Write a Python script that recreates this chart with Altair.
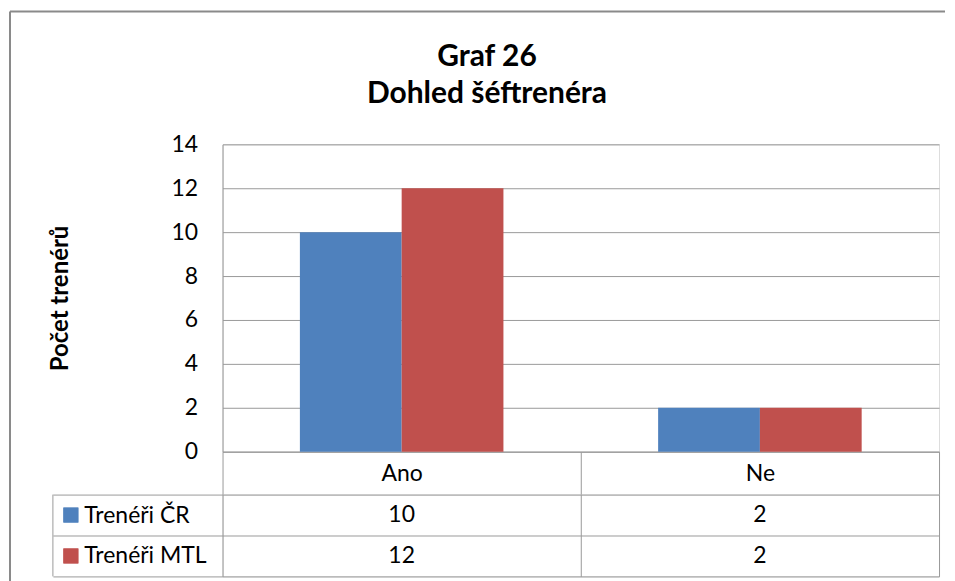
import altair as alt
import pandas as pd

categories = ["Ano", "Ne"]
series = ["Trenéři ČR", "Trenéři MTL"]
values_cr = [10, 2]
values_mtl = [12, 2]
colors = ["#4F81BD", "#C0504D"]
y_ticks = [0, 2, 4, 6, 8, 10, 12, 14]
title_lines = ["Graf 26", "Dohled šéftrenéra"]
y_title = "Počet trenérů"

rows = []
for s, vals in zip(series, [values_cr, values_mtl]):
    for c, v in zip(categories, vals):
        rows.append({"kategorie": c, "serie": s, "hodnota": v})
df = pd.DataFrame(rows)
one = pd.DataFrame({"k": [0]})

FONT = "Lato"
GRID = "#9a9a9a"
BORDER = "#8a8a8a"
W, H = 718, 308
TABLE_H = 82
TABLE_TOP = 494  # page y of table top
LBL = 23

x_scale = alt.Scale(domain=categories, paddingInner=0, paddingOuter=0)
color_scale = alt.Scale(domain=series, range=colors)

bars = alt.Chart(df).mark_bar().encode(
    x=alt.X("kategorie:N", scale=x_scale, sort=categories, axis=alt.Axis(
        title=None, labelAngle=0, labelFont=FONT, labelFontSize=LBL, labelColor="black",
        tickBand="extent", tickSize=43, tickColor=GRID, tickWidth=1,
        domainColor=GRID, labelPadding=-21, labelBaseline="middle")),
    xOffset=alt.XOffset("serie:N", sort=series,
                        scale=alt.Scale(domain=series, paddingInner=0, paddingOuter=0.76)),
    y=alt.Y("hodnota:Q", scale=alt.Scale(domain=[0, 14], nice=False), axis=alt.Axis(
        values=y_ticks, ticks=False, grid=True, gridColor=GRID, domainColor=GRID,
        labelFont=FONT, labelFontSize=LBL, labelColor="black", labelPadding=25,
        title=y_title, titleFont=FONT, titleFontSize=24, titleFontWeight="bold",
        titleColor="black", titleX=-162, titleY=154, titleAngle=-90,
        titleAlign="center", titleBaseline="middle")),
    color=alt.Color("serie:N", scale=color_scale, legend=None),
).properties(
    width=W, height=H,
    title=alt.Title(title_lines, font=FONT, fontSize=30, fontWeight="bold",
                    lineHeight=38, dx=-94, offset=24, anchor="middle", color="black",
                    frame="group"),
)

table_text = alt.Chart(df).mark_text(font=FONT, fontSize=LBL, color="black").encode(
    x=alt.X("kategorie:N", scale=x_scale, sort=categories, axis=alt.Axis(
        title=None, labels=False, ticks=False, domain=False, grid=True,
        gridColor=GRID, tickBand="extent")),
    y=alt.Y("serie:N", sort=series, scale=alt.Scale(domain=series, paddingInner=0, paddingOuter=0),
            axis=alt.Axis(title=None, labelFont=FONT, labelFontSize=LBL, labelColor="black",
                          labelAlign="left", labelPadding=-31, tickSize=170, tickBand="extent",
                          tickColor=GRID, grid=True, gridColor=GRID, domain=False)),
    text="hodnota:Q",
)
squares = alt.Chart(df).mark_square(size=225, opacity=1).encode(
    x=alt.value(-152),
    y=alt.Y("serie:N", sort=series),
    color=alt.Color("serie:N", scale=color_scale, legend=None),
)
left_line = alt.Chart(one).mark_rule(color=GRID).encode(
    x=alt.value(-170), y=alt.value(0), y2=alt.value(TABLE_H))

border_top = alt.Chart(one).mark_rule(color=BORDER, strokeWidth=2).encode(
    x=alt.value(-213), x2=alt.value(724), y=alt.value(10 - TABLE_TOP))
border_left = alt.Chart(one).mark_rule(color=BORDER, strokeWidth=2).encode(
    x=alt.value(-213), y=alt.value(10 - TABLE_TOP), y2=alt.value(TABLE_H + 20))

table = alt.layer(table_text, squares, left_line, border_top, border_left).properties(
    width=W, height=TABLE_H)

chart = alt.vconcat(bars, table, spacing=43, bounds="flush").configure_view(
    stroke=None
).configure(padding={"left": 0, "top": 1, "right": 0, "bottom": 0}, background="white")

chart.save("out.html", embed_options={"renderer": "svg", "actions": False})
